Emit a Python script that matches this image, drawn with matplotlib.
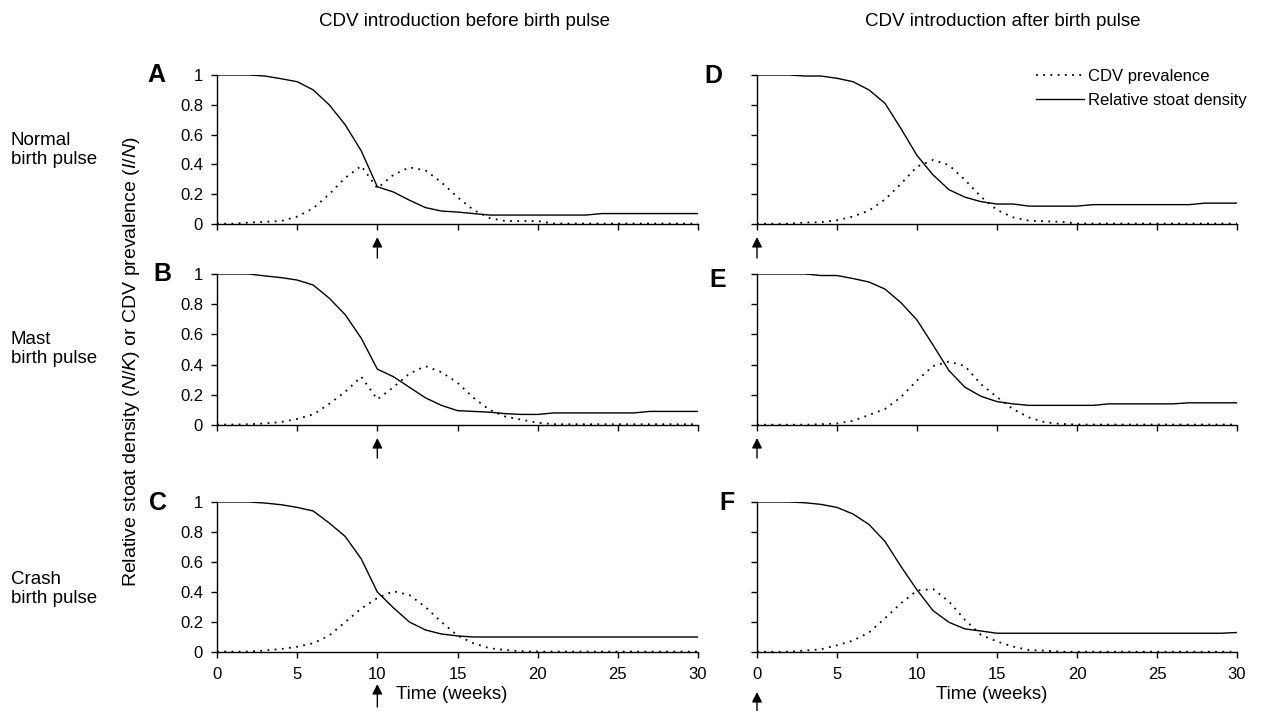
import matplotlib
matplotlib.use("Agg")
import matplotlib.pyplot as plt
from matplotlib.lines import Line2D

plt.rcParams['font.family'] = ['Liberation Sans', 'DejaVu Sans']
plt.rcParams['mathtext.fontset'] = 'custom'
plt.rcParams['mathtext.rm'] = 'Liberation Sans'
plt.rcParams['mathtext.it'] = 'Liberation Sans:italic'

# weeks since start of simulation
weeks = list(range(31))

# relative stoat density N/K
dens_a = [1.0, 1.0, 1.0, 0.993, 0.975, 0.955, 0.90, 0.80, 0.665, 0.49, 0.25, 0.215, 0.16, 0.11, 0.087,
          0.08, 0.07, 0.06, 0.06, 0.06, 0.06, 0.06, 0.06, 0.06, 0.07, 0.07, 0.07, 0.07, 0.07, 0.07, 0.07]
dens_b = [1.0, 1.0, 1.0, 0.987, 0.976, 0.96, 0.927, 0.84, 0.73, 0.574, 0.37, 0.32, 0.25, 0.18, 0.13,
          0.095, 0.09, 0.085, 0.075, 0.07, 0.07, 0.08, 0.08, 0.08, 0.08, 0.08, 0.08, 0.09, 0.09, 0.09, 0.09]
dens_c = [1.0, 1.0, 1.0, 0.993, 0.982, 0.964, 0.94, 0.86, 0.77, 0.62, 0.40, 0.295, 0.20, 0.147, 0.12,
          0.107, 0.10, 0.10, 0.10, 0.10, 0.10, 0.10, 0.10, 0.10, 0.10, 0.10, 0.10, 0.10, 0.10, 0.10, 0.10]
dens_d = [1.0, 1.0, 1.0, 0.993, 0.993, 0.978, 0.955, 0.90, 0.81, 0.64, 0.46, 0.33, 0.23, 0.18, 0.15,
          0.134, 0.134, 0.12, 0.12, 0.12, 0.12, 0.13, 0.13, 0.13, 0.13, 0.13, 0.13, 0.13, 0.14, 0.14, 0.14]
dens_e = [1.0, 1.0, 1.0, 1.0, 0.99, 0.99, 0.97, 0.947, 0.90, 0.81, 0.695, 0.53, 0.36, 0.25, 0.19,
          0.155, 0.14, 0.13, 0.13, 0.13, 0.13, 0.13, 0.14, 0.14, 0.14, 0.14, 0.14, 0.147, 0.147, 0.147, 0.147]
dens_f = [1.0, 1.0, 1.0, 0.995, 0.984, 0.964, 0.92, 0.85, 0.737, 0.57, 0.414, 0.276, 0.198, 0.154, 0.14,
          0.125, 0.125, 0.125, 0.125, 0.125, 0.125, 0.125, 0.125, 0.125, 0.125, 0.125, 0.125, 0.125, 0.125, 0.125, 0.13]

# CDV prevalence I/N
prev_a = [0.002, 0.002, 0.01, 0.015, 0.02, 0.05, 0.105, 0.20, 0.31, 0.39, 0.24, 0.33, 0.38, 0.36, 0.28,
          0.18, 0.094, 0.04, 0.02, 0.02, 0.02, 0.003, 0.003, 0.003, 0.003, 0.003, 0.003, 0.003, 0.003, 0.003, 0.003]
prev_b = [0.003, 0.003, 0.005, 0.01, 0.02, 0.04, 0.07, 0.14, 0.22, 0.32, 0.17, 0.25, 0.34, 0.39, 0.35,
          0.28, 0.18, 0.10, 0.055, 0.035, 0.015, 0.005, 0.005, 0.005, 0.005, 0.005, 0.005, 0.005, 0.005, 0.005, 0.005]
prev_c = [0.003, 0.003, 0.003, 0.01, 0.02, 0.035, 0.058, 0.11, 0.20, 0.29, 0.36, 0.405, 0.38, 0.30, 0.20,
          0.11, 0.058, 0.025, 0.013, 0.005, 0.003, 0.003, 0.003, 0.003, 0.003, 0.003, 0.003, 0.003, 0.003, 0.003, 0.003]
prev_d = [0.002, 0.002, 0.002, 0.01, 0.012, 0.025, 0.05, 0.09, 0.165, 0.27, 0.385, 0.43, 0.395, 0.295, 0.183,
          0.094, 0.045, 0.022, 0.018, 0.015, 0.003, 0.003, 0.003, 0.003, 0.003, 0.003, 0.003, 0.003, 0.003, 0.003, 0.003]
prev_e = [0.002, 0.002, 0.002, 0.002, 0.005, 0.01, 0.028, 0.066, 0.106, 0.185, 0.295, 0.39, 0.42, 0.39, 0.27,
          0.185, 0.105, 0.05, 0.018, 0.007, 0.003, 0.003, 0.003, 0.003, 0.003, 0.003, 0.003, 0.003, 0.003, 0.003, 0.003]
prev_f = [0.002, 0.002, 0.002, 0.01, 0.018, 0.045, 0.076, 0.13, 0.225, 0.325, 0.41, 0.42, 0.336, 0.214, 0.114,
          0.07, 0.036, 0.013, 0.009, 0.002, 0.002, 0.002, 0.002, 0.002, 0.002, 0.002, 0.002, 0.002, 0.002, 0.002, 0.002]

panel_letters = ['A', 'B', 'C', 'D', 'E', 'F']
density = [dens_a, dens_b, dens_c, dens_d, dens_e, dens_f]
prevalence = [prev_a, prev_b, prev_c, prev_d, prev_e, prev_f]
intro_week = [10, 10, 10, 0, 0, 0]
row_labels = ['Normal\nbirth pulse', 'Mast\nbirth pulse', 'Crash\nbirth pulse']
col_titles = ['CDV introduction before birth pulse', 'CDV introduction after birth pulse']
x_ticks = [0, 5, 10, 15, 20, 25, 30]
y_ticks = [0, 0.2, 0.4, 0.6, 0.8, 1]
y_ticklabels = ['0', '0.2', '0.4', '0.6', '0.8', '1']

W, H = 1261, 711
fig = plt.figure(figsize=(W / 100, H / 100), dpi=100)

# axes boxes in pixels: (left, right) and (top, bottom)
col_px = [(217, 698), (757, 1237)]
row_px = [(75, 224), (274, 425), (502, 652)]
letter_px = [(156, 75), (162, 274), (158, 503), (713, 76), (718, 280), (727, 503)]
# arrow tip / tail offsets below each axis (pixels)
arrow_px = [(13, 34), (13, 33), (32, 55), (13, 34), (13, 33), (40, 59)]

FS_TEXT = 13.5
FS_TICK = 12
dotted = (0, (1, 3))

for i in range(6):
    col, row = divmod(i, 3)
    x0, x1 = col_px[col]
    y0, y1 = row_px[row]
    ax = fig.add_axes([x0 / W, 1 - y1 / H, (x1 - x0) / W, (y1 - y0) / H])
    ax.plot(weeks, prevalence[i], color='black', lw=1.3, linestyle=dotted)
    ax.plot(weeks, density[i], color='black', lw=1.0)
    ax.set_xlim(0, 30)
    ax.set_ylim(0, 1)
    for s in ['top', 'right']:
        ax.spines[s].set_visible(False)
    for s in ['left', 'bottom']:
        ax.spines[s].set_linewidth(1.0)
    ax.set_xticks(x_ticks)
    ax.set_yticks(y_ticks)
    ax.tick_params(direction='out', length=4, width=1.0, labelsize=FS_TICK)
    ax.tick_params(axis='y', pad=6)
    ax.tick_params(axis='x', pad=7)
    if col == 0:
        ax.set_yticklabels(y_ticklabels)
    else:
        ax.set_yticklabels([])
    if row < 2:
        ax.set_xticklabels([])
    else:
        ax.set_xlabel('Time (weeks)', fontsize=FS_TEXT)
        ax.xaxis.set_label_coords(0.488, -(686 - y1) / (y1 - y0))
    # week of virus introduction
    h = y1 - y0
    tip, tail = arrow_px[i]
    ax.annotate('', xy=(intro_week[i], -tip / h), xytext=(intro_week[i], -tail / h),
                xycoords=('data', 'axes fraction'), textcoords=('data', 'axes fraction'),
                arrowprops=dict(arrowstyle='-|>,head_length=0.6,head_width=0.3', color='black',
                                lw=1.0, shrinkA=0, shrinkB=0, mutation_scale=10),
                annotation_clip=False)
    lx, ly = letter_px[i]
    fig.text(lx / W, 1 - ly / H, panel_letters[i], fontsize=18, fontweight='bold',
             ha='center', va='center')
    if i == 3:
        handles = [Line2D([], [], color='black', lw=1.3, linestyle=dotted),
                   Line2D([], [], color='black', lw=1.0)]
        ax.legend(handles, ['CDV prevalence', 'Relative stoat density'], loc='upper left',
                  bbox_to_anchor=(1036 / W, 1 - 69 / H), bbox_transform=fig.transFigure,
                  frameon=False, fontsize=FS_TICK, handlelength=2.9, handletextpad=0.2,
                  borderpad=0, borderaxespad=0, labelspacing=0.55)

for c, title in enumerate(col_titles):
    fig.text([464, 1003][c] / W, 1 - 22 / H, title, fontsize=FS_TEXT, ha='center', va='center')

for r, label in enumerate(row_labels):
    fig.text(11 / W, 1 - [150, 349, 589][r] / H, label, fontsize=FS_TEXT, ha='left', va='center',
             linespacing=1.15)

fig.text(132 / W, 1 - 362 / H,
         r'Relative stoat density ($\mathit{N/K}$) or CDV prevalence ($\mathit{I/N}$)',
         fontsize=14, rotation=90, ha='center', va='center')

fig.savefig('out.png', dpi=100)
